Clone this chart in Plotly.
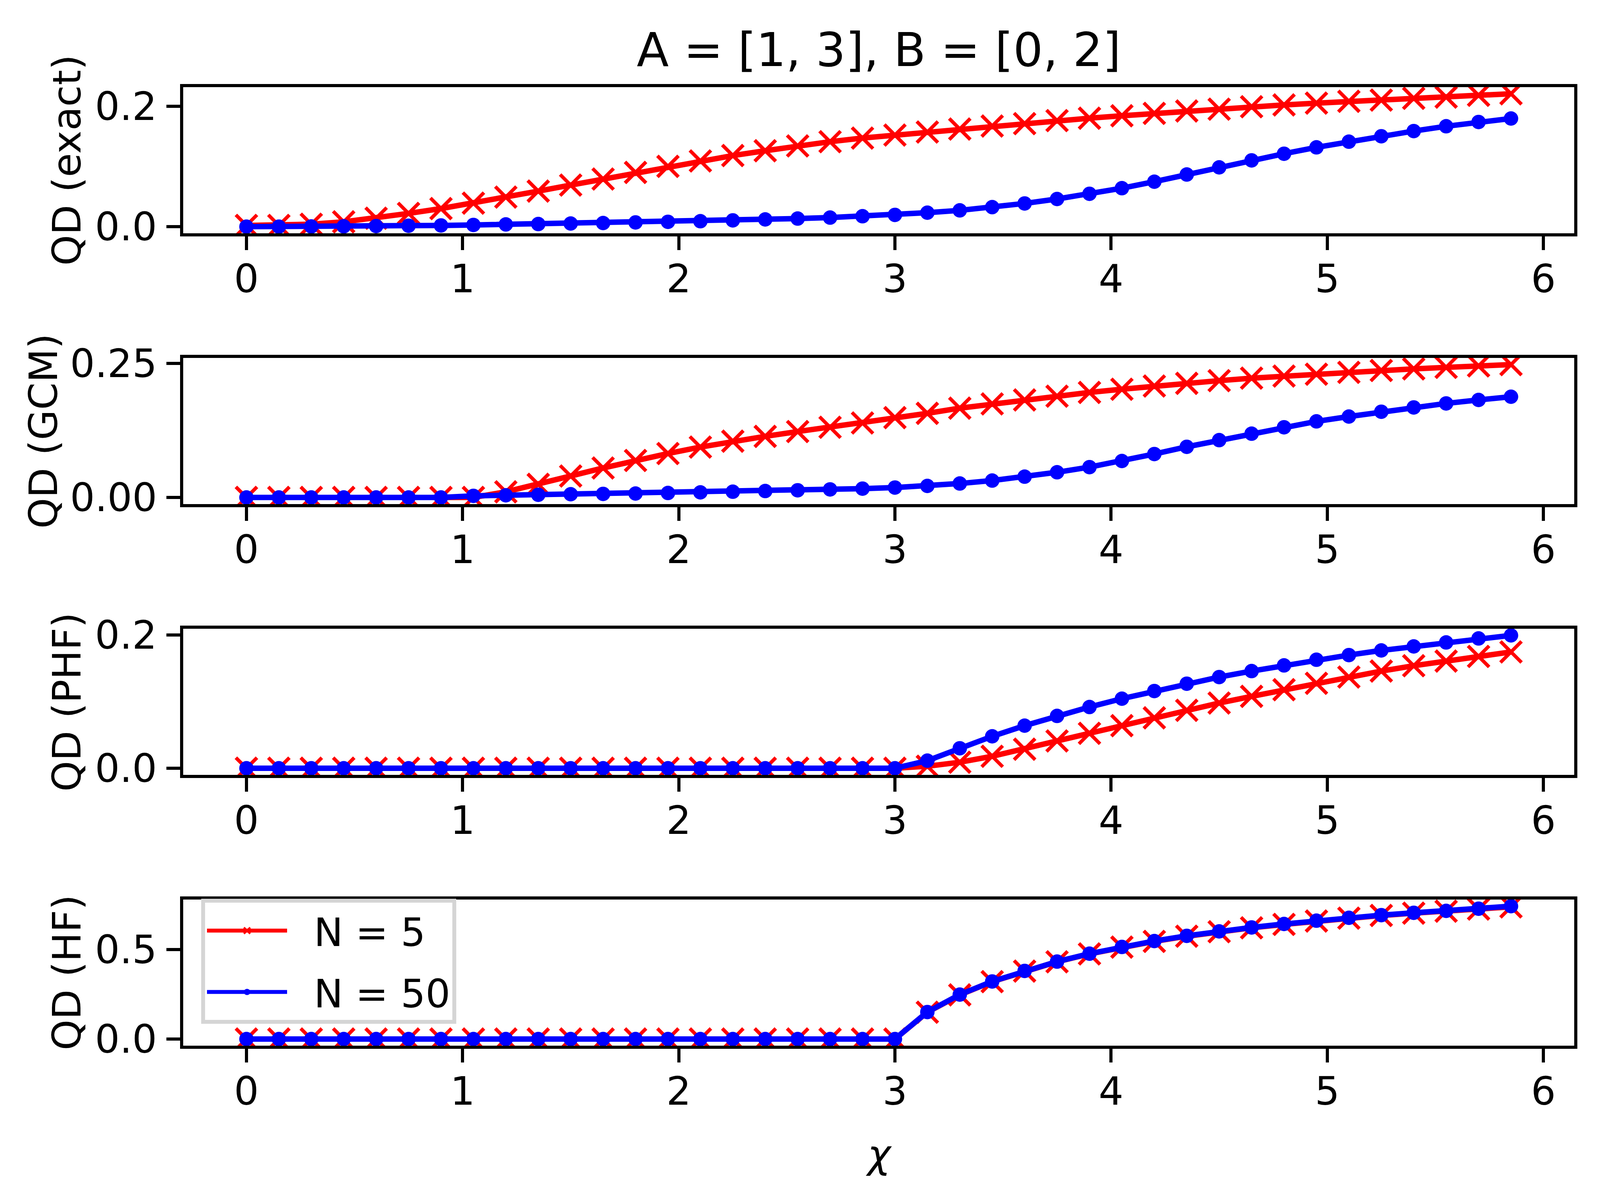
import plotly.graph_objects as go

# ---------------- data ----------------
chi = [0.00, 0.15, 0.30, 0.45, 0.60, 0.75, 0.90, 1.05, 1.20, 1.35,
       1.50, 1.65, 1.80, 1.95, 2.10, 2.25, 2.40, 2.55, 2.70, 2.85,
       3.00, 3.15, 3.30, 3.45, 3.60, 3.75, 3.90, 4.05, 4.20, 4.35,
       4.50, 4.65, 4.80, 4.95, 5.10, 5.25, 5.40, 5.55, 5.70, 5.85]

qd_exact_n5 = [0.002, 0.002, 0.004, 0.008, 0.014, 0.022, 0.030, 0.039, 0.049, 0.059,
               0.069, 0.079, 0.090, 0.100, 0.109, 0.118, 0.126, 0.134, 0.141, 0.147,
               0.152, 0.157, 0.162, 0.167, 0.171, 0.176, 0.180, 0.184, 0.188, 0.192,
               0.195, 0.199, 0.202, 0.205, 0.208, 0.210, 0.213, 0.215, 0.218, 0.2205]
qd_exact_n50 = [0.000, 0.000, 0.0003, 0.0006, 0.001, 0.0015, 0.002, 0.0028, 0.0037, 0.0043,
                0.0052, 0.006, 0.007, 0.008, 0.009, 0.0104, 0.012, 0.0134, 0.015, 0.0173,
                0.0195, 0.0232, 0.027, 0.0324, 0.0385, 0.0459, 0.0545, 0.0638, 0.0746, 0.0865,
                0.0984, 0.110, 0.121, 0.1316, 0.141, 0.150, 0.1586, 0.1666, 0.1737, 0.1795]

qd_gcm_n5 = [0.0, 0.0, 0.0, 0.0, 0.0, 0.0, 0.0, 0.0, 0.0105, 0.0244,
             0.040, 0.055, 0.069, 0.082, 0.094, 0.105, 0.114, 0.123, 0.131, 0.139,
             0.149, 0.157, 0.1667, 0.1746, 0.182, 0.189, 0.196, 0.202, 0.208, 0.213,
             0.218, 0.2227, 0.2266, 0.230, 0.2335, 0.237, 0.240, 0.2428, 0.2455, 0.248]
qd_gcm_n50 = [0.0, 0.0, 0.0, 0.0, 0.0, 0.0, 0.0, 0.003, 0.004, 0.005,
              0.006, 0.0066, 0.0073, 0.0083, 0.0095, 0.0107, 0.012, 0.0134, 0.015, 0.0165,
              0.0185, 0.0215, 0.026, 0.0315, 0.0388, 0.047, 0.0566, 0.068, 0.081, 0.0945,
              0.107, 0.119, 0.131, 0.142, 0.151, 0.160, 0.168, 0.1755, 0.182, 0.188]

qd_phf_n5 = [0.0, 0.0, 0.0, 0.0, 0.0, 0.0, 0.0, 0.0, 0.0, 0.0,
             0.0, 0.0, 0.0, 0.0, 0.0, 0.0, 0.0, 0.0, 0.0, 0.0,
             0.0, 0.003, 0.009, 0.018, 0.0286, 0.041, 0.0525, 0.064, 0.0757, 0.087,
             0.098, 0.108, 0.118, 0.1276, 0.137, 0.146, 0.154, 0.161, 0.168, 0.1747]
qd_phf_n50 = [0.0, 0.0, 0.0, 0.0, 0.0, 0.0, 0.0, 0.0, 0.0, 0.0,
              0.0, 0.0, 0.0, 0.0, 0.0, 0.0, 0.0, 0.0, 0.0, 0.0,
              0.0, 0.0114, 0.030, 0.048, 0.064, 0.0786, 0.092, 0.1045, 0.116, 0.127,
              0.137, 0.146, 0.1545, 0.163, 0.170, 0.177, 0.183, 0.189, 0.195, 0.1996]

qd_hf_n5 = [0.0, 0.0, 0.0, 0.0, 0.0, 0.0, 0.0, 0.0, 0.0, 0.0,
            0.0, 0.0, 0.0, 0.0, 0.0, 0.0, 0.0, 0.0, 0.0, 0.0,
            0.0, 0.150, 0.247, 0.321, 0.380, 0.432, 0.476, 0.514, 0.546, 0.575,
            0.600, 0.622, 0.641, 0.660, 0.676, 0.691, 0.704, 0.715, 0.727, 0.739]
qd_hf_n50 = [0.0, 0.0, 0.0, 0.0, 0.0, 0.0, 0.0, 0.0, 0.0, 0.0,
             0.0, 0.0, 0.0, 0.0, 0.0, 0.0, 0.0, 0.0, 0.0, 0.0,
             0.0, 0.151, 0.2486, 0.322, 0.381, 0.433, 0.4775, 0.515, 0.548, 0.577,
             0.602, 0.624, 0.6435, 0.662, 0.678, 0.693, 0.706, 0.7167, 0.729, 0.743]

panel_labels = ["QD (exact)", "QD (GCM)", "QD (PHF)", "QD (HF)"]
panel_ytick_vals = [[0.0, 0.2], [0.0, 0.25], [0.0, 0.2], [0.0, 0.5]]
panel_ytick_fmt = [".1f", ".2f", ".1f", ".1f"]
x_tick_vals = [0, 1, 2, 3, 4, 5, 6]
series_n5 = [qd_exact_n5, qd_gcm_n5, qd_phf_n5, qd_hf_n5]
series_n50 = [qd_exact_n50, qd_gcm_n50, qd_phf_n50, qd_hf_n50]
title_text = "A = [1, 3], B = [0, 2]"
legend_names = ["\u00a0\u00a0N = 5", "\u00a0\u00a0N = 50"]

# ---------------- layout geometry (pixels) ----------------
# The browser viewport is clamped to 4096 px wide, so horizontal
# positions of the 4367-px-wide reference are scaled to fit.
REF_W = 4367
W, H = 4096, 3053
SX = W / REF_W
PL, PR = round(500 * SX), round(4297 * SX)
PT, PB = 223, 2676
PANEL_H, PANEL_STEP = 374, 693
FONT = "DejaVu Sans"
RED, BLUE = "#ff0000", "#0000ff"
FS = 100

fig = go.Figure()
layout = {}

xmin, xmax = min(chi), max(chi)
xpad = 0.05 * (xmax - xmin)

axis_common = dict(
    showline=True, linecolor="black", linewidth=8, mirror=True,
    ticks="outside", ticklen=35, tickwidth=8, tickcolor="black",
    showgrid=False, zeroline=False, automargin=False,
    tickfont=dict(family=FONT, size=FS, color="black"),
)

for i in range(4):
    k = i + 1
    xa = "x" if k == 1 else f"x{k}"
    ya = "y" if k == 1 else f"y{k}"
    n5, n50 = series_n5[i], series_n50[i]
    fig.add_trace(go.Scatter(
        x=chi, y=n5, mode="lines+markers", name=legend_names[0],
        line=dict(color=RED, width=14),
        marker=dict(symbol="x-thin", size=54, color=RED, line=dict(color=RED, width=9)),
        xaxis=xa, yaxis=ya, showlegend=(k == 4), legendgroup="n5",
    ))
    fig.add_trace(go.Scatter(
        x=chi, y=n50, mode="lines+markers", name=legend_names[1],
        line=dict(color=BLUE, width=14),
        marker=dict(symbol="circle", size=37, color=BLUE, line=dict(width=0)),
        xaxis=xa, yaxis=ya, showlegend=(k == 4), legendgroup="n50",
    ))
    top = PT + i * PANEL_STEP
    bot = top + PANEL_H
    dom = [(PB - bot) / (PB - PT), (PB - top) / (PB - PT)]
    lo = min(min(n5), min(n50))
    hi = max(max(n5), max(n50))
    ypad = 0.05 * (hi - lo)
    layout["xaxis" if k == 1 else f"xaxis{k}"] = dict(
        axis_common, domain=[0, 1], anchor=ya,
        range=[xmin - xpad, xmax + xpad], tickvals=x_tick_vals,
        ticklabelstandoff=-12,
    )
    layout["yaxis" if k == 1 else f"yaxis{k}"] = dict(
        axis_common, domain=dom, anchor=xa,
        range=[lo - ypad, hi + ypad], tickvals=panel_ytick_vals[i],
        tickformat=panel_ytick_fmt[i], ticklabelstandoff=4,
    )

annotations = []
annotations.append(dict(
    text=title_text, xref="paper", yref="paper",
    x=0.5, y=1 + (PT - 128) / (PB - PT), xanchor="center", yanchor="middle",
    showarrow=False, font=dict(family=FONT, size=120, color="black"),
))
ylabel_px = [182 * SX, 118 * SX, 182 * SX, 182 * SX]
for i in range(4):
    top = PT + i * PANEL_STEP
    mid = top + PANEL_H / 2
    annotations.append(dict(
        text=panel_labels[i], xref="paper", yref="paper",
        x=(ylabel_px[i] - PL) / (PR - PL), y=(PB - mid) / (PB - PT),
        xanchor="center", yanchor="middle", textangle=-90, showarrow=False,
        font=dict(family=FONT, size=FS, color="black"),
    ))
annotations.append(dict(
    text="<i>χ</i>", xref="paper", yref="paper",
    x=0.5, y=(PB - 2953) / (PB - PT), xanchor="center", yanchor="middle",
    showarrow=False, font=dict(family=FONT, size=FS, color="black"),
))

fig.update_layout(
    **layout,
    annotations=annotations,
    width=W, height=H,
    margin=dict(l=PL, r=W - PR, t=PT, b=H - PB, pad=0, autoexpand=False),
    paper_bgcolor="white", plot_bgcolor="white",
    font=dict(family=FONT, size=FS, color="black"),
    template="none",
    legend=dict(
        x=(549 * SX - PL) / (PR - PL), y=(PB - 2300) / (PB - PT),
        xanchor="left", yanchor="top",
        bgcolor="rgba(255,255,255,0.8)", bordercolor="#d5d5d5", borderwidth=10,
        font=dict(family=FONT, size=FS, color="black"),
        itemwidth=205, tracegroupgap=24, traceorder="grouped",
    ),
)

fig.write_html("out.html",
               config={"displayModeBar": False},
               post_script="document.body.style.margin='0';document.body.style.overflow='hidden';")
